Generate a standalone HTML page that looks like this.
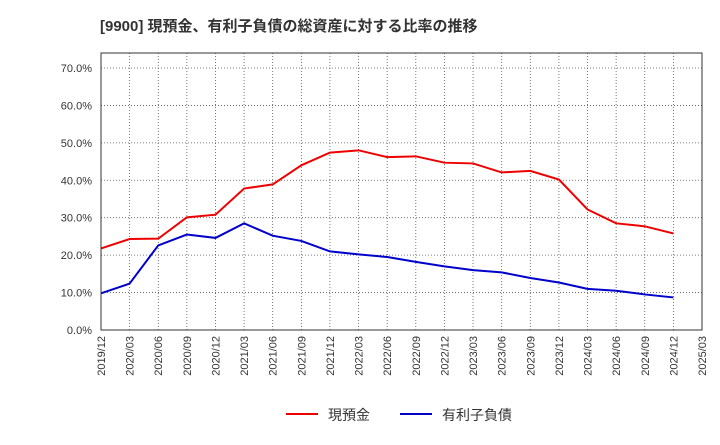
<!DOCTYPE html>
<html><head><meta charset="utf-8"><style>
body{margin:0;background:#fff;font-family:"Liberation Sans","Noto Sans CJK JP",sans-serif;}
</style></head><body>
<svg id="chart" width="720" height="440" xmlns="http://www.w3.org/2000/svg">
<text x="100" y="31" font-size="15" font-weight="bold" fill="#333" font-family="Liberation Sans, Noto Sans CJK JP, sans-serif">[9900]  現預金、有利子負債の総資産に対する比率の推移</text>
<g id="grid"></g>
<g id="axes"></g>
<g id="series"></g>
<rect x="101" y="53" width="601" height="277" fill="none" stroke="#333"/>
<g>
<line x1="286" y1="414" x2="318" y2="414" stroke="#e00" stroke-width="2"/>
<text x="328" y="420" font-size="14" fill="#333">現預金</text>
<line x1="400" y1="414" x2="432" y2="414" stroke="#00c" stroke-width="2"/>
<text x="442" y="420" font-size="14" fill="#333">有利子負債</text>
</g>
</svg>
<script>
const categories=["2019/12","2020/03","2020/06","2020/09","2020/12","2021/03","2021/06","2021/09","2021/12","2022/03","2022/06","2022/09","2022/12","2023/03","2023/06","2023/09","2023/12","2024/03","2024/06","2024/09","2024/12","2025/03"];
const cashValues=[21.8,24.3,24.4,30.1,30.8,37.8,38.9,44.0,47.4,48.0,46.2,46.4,44.7,44.5,42.1,42.5,40.2,32.2,28.5,27.7,25.8];
const debtValues=[9.8,12.4,22.6,25.5,24.6,28.5,25.2,23.8,21.0,20.2,19.5,18.2,17.0,16.0,15.4,13.9,12.7,11.0,10.5,9.5,8.7];
const yTicks=[0,10,20,30,40,50,60,70];
const NS="http://www.w3.org/2000/svg";
const x0=101,x1=702,yb=330,yPer=37.43;
const xs=i=>x0+i*(x1-x0)/(categories.length-1);
const ys=v=>yb-v*yPer/10;
const grid=document.getElementById('grid'),axes=document.getElementById('axes'),ser=document.getElementById('series');
function mk(tag,attrs,parent){const e=document.createElementNS(NS,tag);for(const k in attrs)e.setAttribute(k,attrs[k]);parent.appendChild(e);return e;}
yTicks.forEach(t=>{
 const l=mk('line',{x1:x0,x2:x1,y1:ys(t),y2:ys(t),stroke:'#555','stroke-dasharray':'1,2','stroke-width':0.8},grid);
 
 
 const tx=mk('text',{x:92,y:ys(t)+4,'font-size':11,fill:'#333','text-anchor':'end'},axes);
 tx.textContent=t.toFixed(1)+'%';
 
 
});
categories.forEach((c,i)=>{
 const x=xs(i);
 const l=mk('line',{x1:x,x2:x,y1:53,y2:yb,stroke:'#555','stroke-dasharray':'1,2','stroke-width':0.8},grid);
 
 
 const tx=mk('text',{x:0,y:0,'font-size':11,fill:'#333','text-anchor':'end',transform:`translate(${x+4},336) rotate(-90)`},axes);
 tx.textContent=c;
 
 
});
function line(vals,color,name){
 const p=mk('polyline',{points:vals.map((v,i)=>xs(i)+','+ys(v)).join(' '),fill:'none',stroke:color,'stroke-width':2},ser);
 
 
}
line(cashValues,'#e00','cash-line');
line(debtValues,'#00c','debt-line');
</script>
</body></html>
